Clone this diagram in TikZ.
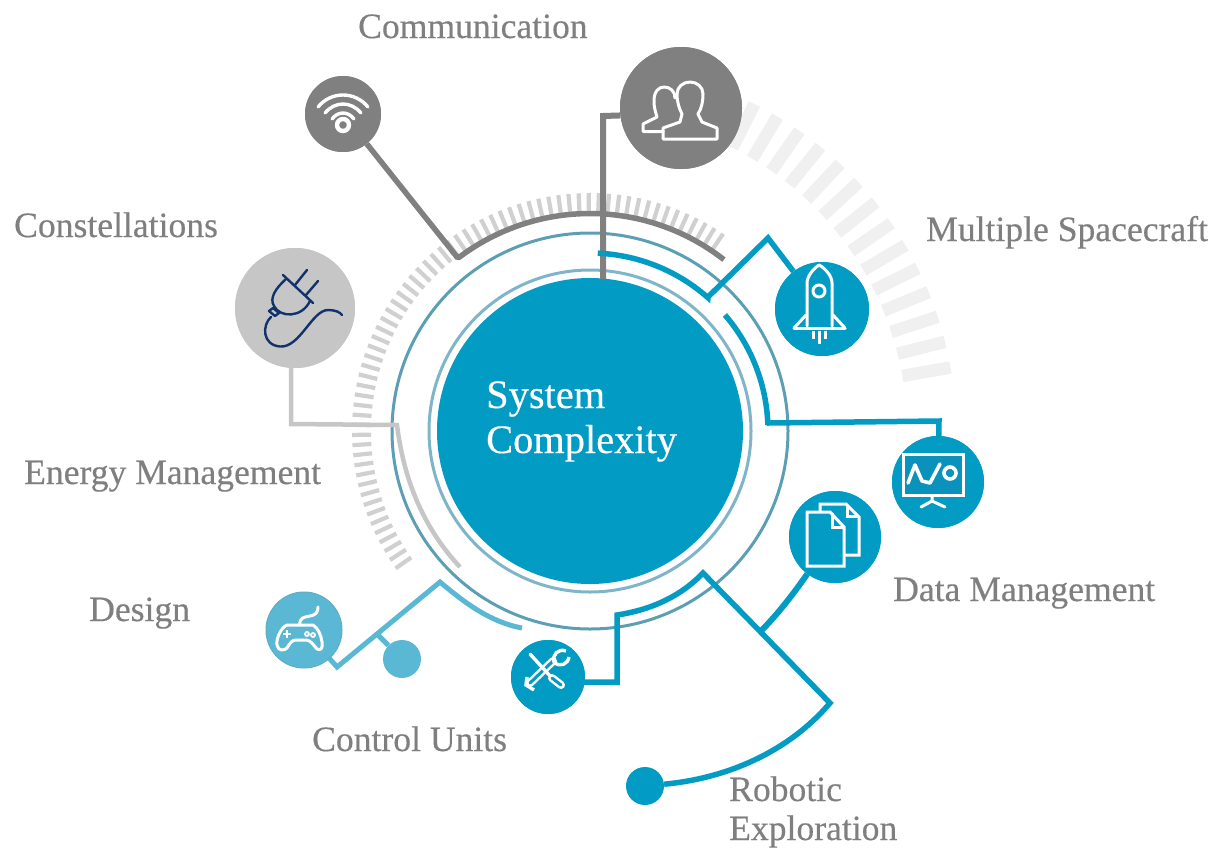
\documentclass[tikz,border=0pt]{standalone}
\usepackage{fontspec}
\setmainfont[FakeBold=0.35]{Liberation Serif}
\definecolor{teal1}{HTML}{019BC3}
\definecolor{lblue}{HTML}{5AB8D4}
\definecolor{dgray}{HTML}{808080}
\definecolor{lgray}{HTML}{C6C6C6}
\definecolor{tick1}{HTML}{D0D0D0}
\definecolor{tick2}{HTML}{F0F0F0}
\definecolor{ringA}{HTML}{7FB5C8}
\definecolor{ringB}{HTML}{5C9FB5}
\definecolor{labelc}{HTML}{7F7F7F}
\definecolor{navy}{HTML}{12326B}
\definecolor{screen}{HTML}{0A92BC}
\tikzset{
  dotnode/.style={circle,draw=none,inner sep=0pt,minimum size=#1},
  lab/.style={anchor=base west,inner sep=0pt,text=labelc,font=\fontsize{35.6}{35.6}\selectfont},
  title/.style={anchor=base west,inner sep=0pt,text=white,font=\fontsize{40.4}{40.4}\selectfont},
  icon/.style={draw=white,line width=3pt,line join=round,line cap=round},
  conn/.style={line width=#1,line join=miter},
}
\begin{document}
\begin{tikzpicture}[x=1pt,y=-1pt]
\useasboundingbox (0,0) rectangle (1212,847);
% tick rings
\foreach \a in {10,14.1,...,64} \draw[tick2,line width=12.5pt] ({590+317*cos(\a)},{431-317*sin(\a)}) -- ({590+366*cos(\a)},{431-366*sin(\a)});
\foreach \a in {56,58.45,...,217} \draw[tick1,line width=4.2pt] ({590+219*cos(\a)},{431-219*sin(\a)}) -- ({590+238*cos(\a)},{431-238*sin(\a)});
% rings
\draw[ringB,line width=3pt] (590,431) circle[radius=198];
\draw[ringA,line width=3pt] (590,431) circle[radius=161];
% central node
\node[dotnode=306pt,fill=teal1] (core) at (590,431) {};
% icon discs
\node[dotnode=76pt,fill=dgray] (wifi) at (343,114) {};
\node[dotnode=122pt,fill=dgray] (users) at (681,108) {};
\node[dotnode=120pt,fill=lgray] (plug) at (295,308) {};
\node[dotnode=94pt,fill=teal1] (rocket) at (822,309) {};
\node[dotnode=92pt,fill=teal1] (board) at (938,482) {};
\node[dotnode=92pt,fill=teal1] (docs) at (835,537) {};
\node[dotnode=74pt,fill=teal1] (tools) at (548,677) {};
\node[dotnode=76pt,fill=lblue] (pad) at (304,630) {};
\node[dotnode=38pt,fill=lblue] (ldot) at (402,659) {};
\node[dotnode=38pt,fill=teal1] (tdot) at (645,786) {};
% named elbows
\coordinate (wifiE) at (457,257);
\coordinate (usersA) at (603,116);
\coordinate (usersB) at (603,279);
\coordinate (rockA) at (708,297);
\coordinate (rockB) at (768,238);
\coordinate (boardA) at (768,423);
\coordinate (boardB) at (939,421);
\coordinate (plugA) at (291,424);
\coordinate (plugB) at (397,425);
\coordinate (toolA) at (617,682);
\coordinate (toolB) at (617,615);
\coordinate (robA) at (703,573);
\coordinate (robB) at (830,703);
\coordinate (docA) at (760,632);
\coordinate (padA) at (337,667);
\coordinate (padB) at (440,582);
\coordinate (padC) at (378,635);
% connectors
\draw[dgray,conn=5.5pt] (wifi) -- (wifiE) -- plot[domain=127:52,samples=50] ({590+217.5*cos(\x)},{431-217.5*sin(\x)});
\draw[dgray,conn=6pt] (users.187) -- (usersA) -- (usersB);
\draw[teal1,conn=5.5pt] plot[domain=87.5:48.5,samples=40] ({590+178*cos(\x)},{431-178*sin(\x)}) -- (rockA) -- (rockB) -- (rocket);
\draw[teal1,conn=5.5pt] plot[domain=40.7:2.6,samples=40] ({590+178*cos(\x)},{431-178*sin(\x)}) -- (boardA) -- (boardB) -- (board);
\draw[lgray,conn=4.5pt] (plug.south -| plugA) -- (plugA) -- (plugB) .. controls (405,490) and (430,535) .. (460,567);
\draw[teal1,conn=5.5pt] (tools.center |- toolA) -- (toolA) -- (toolB) .. controls (650,610) and (680,597) .. (robA) -- (robB) .. controls (790,750) and (730,778) .. (tdot);
\draw[teal1,conn=6pt] (docs) .. controls (805,577) and (785,607) .. (docA);
\draw[lblue,conn=5pt] (pad) -- (padA) -- (padB) .. controls (465,603) and (490,622) .. (522,628);
\draw[lblue,conn=5pt] (padC) -- (ldot);
% redraw discs above their connectors
\fill[dgray] (wifi) circle[radius=38];
\fill[dgray] (users) circle[radius=61];
\fill[lgray] (plug) circle[radius=60];
\fill[teal1] (rocket) circle[radius=47];
\fill[teal1] (board) circle[radius=46];
\fill[teal1] (docs) circle[radius=46];
\fill[teal1] (tools) circle[radius=37];
\filldraw[fill=lblue,draw=lblue!80!gray,line width=1pt] (pad) circle[radius=38];
% wifi icon
\draw[icon,line width=3.4pt] (368,107) .. controls (355,91) and (331,91) .. (318,107);
\draw[icon,line width=3.4pt] (361,113) .. controls (351,101) and (335,101) .. (325,113);
\draw[icon,line width=3.4pt] (354,119) .. controls (348,111) and (338,111) .. (332,119);
\draw[white,line width=4.4pt] (343,125) circle[radius=6];
% users icon
\draw[icon] (663,131.5) -- (643,131.5) -- (643,124) -- (657,117) .. controls (656,113) and (654,109) .. (654,101) .. controls (654,91) and (659,87) .. (664,87) .. controls (670,87) and (675,91) .. (675,98);
\draw[icon] (663,139) -- (717,139) -- (717,128) -- (702,122) -- (698,114) .. controls (702,108) and (703,100) .. (703,94) .. controls (703,87) and (697,82) .. (690,82) .. controls (683,82) and (677,87) .. (677,94) .. controls (677,102) and (679,108) .. (682,114) -- (680,122) -- (663,128) -- cycle;
% plug icon
\begin{scope}[navy,line width=2.4pt,line cap=round,line join=round]
\draw (283,275) -- (313,303);
\draw (295,285) -- (307,270);
\draw (306,295) -- (318,281);
\draw (286,279) .. controls (276,288) and (269,298) .. (274,306) .. controls (280,318) and (302,318) .. (310,301);
\draw (269,311) -- (273,308) -- (279,313) -- (275,316) -- cycle;
\draw (271,317) .. controls (262,325) and (262,345) .. (280,346.5) .. controls (300,348) and (312,310) .. (328,310) .. controls (335,310) and (340,312) .. (342,315);
\end{scope}
% rocket icon
\draw[icon] (807,326) -- (807,283) .. controls (807,276) and (814,268) .. (819,265) .. controls (825,268) and (832,276) .. (832,283) -- (832,326);
\draw[icon] (794,328) -- (845,328);
\draw[icon] (794,328) -- (806,315);
\draw[icon] (845,328) -- (833,315);
\draw[icon] (819,291) circle[radius=6];
\draw[icon,line cap=butt] (813,331) -- (813,339);
\draw[icon,line cap=butt] (819,331) -- (819,344);
\draw[icon,line cap=butt] (825,331) -- (825,339);
% board icon
\fill[screen] (903,454) rectangle (963,495);
\draw[icon,line cap=butt,line join=miter] (903,454) rectangle (963,495);
\draw[icon,line width=3.6pt] (908,483) -- (915,465) -- (922,481) -- (930,483) -- (940,464);
\draw[icon,line width=3.6pt] (950,473) circle[radius=6];
\draw[icon] (932,497) -- (932,501) -- (921,507);
\draw[icon] (932,501) -- (945,507);
% docs icon
\draw[icon,line cap=butt,line join=miter] (820,511) -- (820,504) -- (846,504) -- (859,517) -- (859,555) -- (845,555);
\draw[icon,line cap=butt,line join=miter] (847,505) -- (847,516) -- (858,516);
\draw[icon,line cap=butt,line join=miter] (807,512) -- (830,512) -- (844,527) -- (844,566) -- (807,566) -- cycle;
\draw[icon,line cap=butt,line join=miter] (832,513) -- (832,527) -- (843,527);
% tools icon
\draw[white,line width=8pt,line cap=round] (530,683) -- (553,661);
\draw[teal1,line width=3pt,line cap=round] (530,683) -- (553,661);
\draw[white,line width=3.4pt,line join=round] (566,651) .. controls (558,648) and (552,655) .. (554,662) .. controls (560,668) and (568,664) .. (569,657);
\draw[white,line width=3.4pt,line cap=round] (530,654) -- (551,677);
\draw[white,line width=8pt,line cap=round] (552,678) -- (561,685);
\draw[teal1,line width=3pt,line cap=round] (552,678) -- (561,685);
\draw[white,line width=3.4pt] (527,677) -- (526,685) -- (534,690);
% controller icon
\draw[icon] (287,625) .. controls (280,628) and (276,640) .. (277,645) .. controls (278,651) and (284,651) .. (287,648) .. controls (290,643) and (292,640) .. (296,640) -- (306,640) .. controls (311,640) and (314,646) .. (317,649) .. controls (321,651) and (323,648) .. (322,642) .. controls (321,635) and (318,628) .. (313,625) -- cycle;
\draw[icon] (300,625) .. controls (299,618) and (304,617) .. (310,616) .. controls (316,615) and (318,612) .. (318,607);
\draw[white,line width=2pt] (283,634) -- (291,634) (287,630) -- (287,638);
\draw[white,line width=1.8pt] (307,634) circle[radius=2] (313,635) circle[radius=2];
% labels
\node[lab] (l1) at (358,38) {Communication};
\node[lab] (l2) at (14,237) {Constellations};
\node[lab] (l3) at (926,241) {Multiple Spacecraft};
\node[lab] (l4) at (24,484) {Energy Management};
\node[lab] (l5) at (89,621) {Design};
\node[lab] (l6) at (893,601) {Data Management};
\node[lab] (l7) at (312,751) {Control Units};
\node[lab] (l8) at (729,801) {Robotic};
\node[lab] (l9) at (729,840) {Exploration};
\node[title] (t1) at (486,408) {System};
\node[title] (t2) at (486,453) {Complexity};
\end{tikzpicture}
\end{document}
